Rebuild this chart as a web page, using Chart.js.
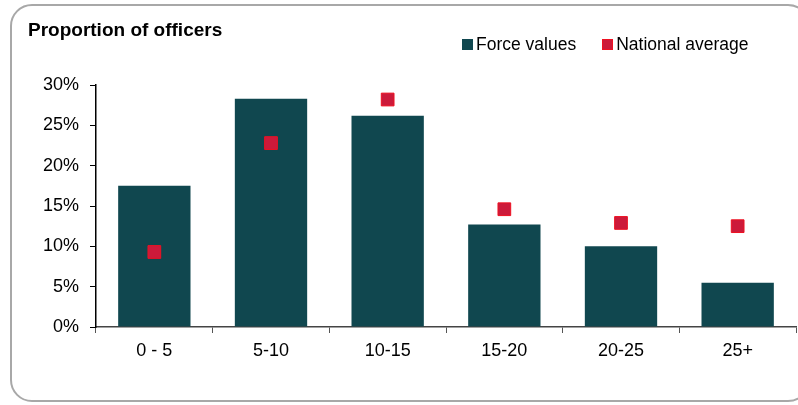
<!DOCTYPE html>
<html>
<head>
<meta charset="utf-8">
<script src="https://cdn.jsdelivr.net/npm/chart.js@4.4.0/dist/chart.umd.min.js"></script>
<style>
  html, body { margin: 0; padding: 0; background: #fff; overflow: hidden; }
  body { width: 798px; height: 405px; position: relative; font-family: "Liberation Sans", Arial, sans-serif; }
  #frame { position: absolute; left: 10px; top: 4px; width: 800px; height: 398px; border: 2px solid #a8a8a8; border-radius: 22px; box-sizing: border-box; }
  #title { position: absolute; left: 28px; top: 19px; font-weight: bold; font-size: 19px; color: #000; }
  #legend { position: absolute; left: 462px; top: 34px; font-size: 17.5px; color: #000; white-space: nowrap; }
  #legend span.item { display: inline-block; margin-right: 26px; }
  #legend i { display: inline-block; width: 11px; height: 11px; margin-right: 3px; vertical-align: 0px; }
  #wrap { position: absolute; left: 0; top: 0; width: 806px; height: 405px; }
</style>
</head>
<body>
<div id="frame"></div>
<div id="wrap"><canvas id="chart"></canvas></div>
<div id="title">Proportion of officers</div>
<div id="legend">
  <span class="item"><i style="background:#10474f"></i>Force values</span><span class="item"><i style="background:#cc1a3a;box-shadow:inset 0 0 0 1px #ee1122"></i>National average</span>
</div>
<script>
// categories (years of service) and values
var categories = ['0 - 5', '5-10', '10-15', '15-20', '20-25', '25+'];
var forceValues = [17.5, 28.3, 26.2, 12.7, 10.0, 5.5];
var nationalAverage = [9.3, 22.8, 28.2, 14.6, 12.9, 12.5];
var yTicks = [0, 5, 10, 15, 20, 25, 30];

var font = { family: '"Liberation Sans", Arial, sans-serif', size: 18 };

const ctx = document.getElementById('chart').getContext('2d');
const myChart = new Chart(ctx, {
    type: 'bar',
    data: {
        labels: categories,
        datasets: [{
            type: 'line',
            label: 'National average',
            data: nationalAverage,
            showLine: false,
            pointStyle: 'rect',
            pointRadius: 9,
            pointBackgroundColor: '#cc1a3a',
            pointBorderColor: '#ee1122',
            pointBorderWidth: 1,
            order: 0
        }, {
            label: 'Force values',
            data: forceValues,
            backgroundColor: '#10474f',
            borderWidth: 0,
            barPercentage: 0.62,
            categoryPercentage: 1,
            order: 1
        }]
    },
    options: {
        responsive: true,
        maintainAspectRatio: false,
        animation: false,
        layout: { padding: { top: 85, left: 0, right: 6, bottom: 0 } },
        plugins: {
            legend: { display: false },
            tooltip: { enabled: false }
        },
        scales: {
            x: {
                grid: { drawOnChartArea: false, tickLength: 6, color: '#555', offset: true },
                border: { color: '#444', width: 1.5 },
                ticks: { color: '#000', font: font, padding: 7 },
                afterFit: function (scale) { scale.height = 78; }
            },
            y: {
                min: 0,
                max: 30,
                afterBuildTicks: function (scale) {
                    scale.ticks = yTicks.map(function (v) { return { value: v }; });
                },
                grid: { drawOnChartArea: false, tickLength: 6, color: '#000' },
                border: { color: '#000', width: 1.5 },
                ticks: {
                    color: '#000',
                    font: font,
                    padding: 11,
                    callback: function (v) { return v + '%'; }
                },
                afterFit: function (scale) { scale.width = 96; }
            }
        }
    }
});
</script>
</body>
</html>
